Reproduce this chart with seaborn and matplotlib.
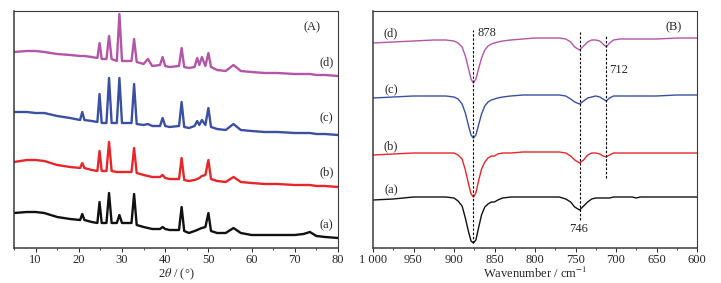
import numpy as np
import pandas as pd
import matplotlib
matplotlib.use("Agg")
import matplotlib.pyplot as plt
import seaborn as sns
from matplotlib.ticker import MultipleLocator

sns.set_style("white")
plt.rcParams.update({
    "font.family": ["Liberation Serif", "DejaVu Serif"],
    "font.size": 9,
    "xtick.direction": "out",
    "xtick.major.size": 2.6,
    "xtick.minor.size": 1.6,
    "xtick.major.width": 0.7,
    "xtick.minor.width": 0.6,
    "xtick.major.pad": 1.5,
    "mathtext.fontset": "stix",
})

# ---- (A) XRD, values are heights (px above the frame bottom edge 248) ----
xrd_2theta = [5, 8, 10, 12, 15, 18, 20.3, 20.8, 21.3, 23, 24.3, 24.8, 25.3, 26.4, 27.0, 27.6,
              28.8, 29.4, 30.0, 32.2, 32.8, 33.4, 35, 36, 37, 38.8, 39.4, 40, 41, 43.2, 43.8,
              44.4, 45.5, 46.8, 47.4, 47.9, 48.5, 49.3, 50.0, 50.6, 52, 54, 55.8, 57.5, 60, 63,
              66, 70, 72, 73.5, 75, 77, 80]
xrd_d = [52, 51, 51, 52, 54, 55, 56, 56, 56, 57, 58, 43, 59, 59, 36, 59,
         61, 14, 61, 61, 39, 62, 64, 59, 66, 65, 57, 66, 67, 66, 48,
         67, 68, 67, 58, 65, 57, 66, 53, 67, 70, 71, 65, 71, 72, 73,
         73, 74, 74, 74, 75, 75, 76]
xrd_c = [112, 112, 113, 113, 116, 118, 120, 112, 120, 121, 122, 94, 123, 123, 78, 123,
         123, 78, 123, 123, 84, 124, 125, 124, 126, 126, 118, 126, 127, 126, 102,
         127, 128, 126, 121, 125, 120, 125, 108, 127, 129, 130, 124, 130, 131, 132,
         132, 133, 133, 133, 134, 134, 135]
xrd_b = [162, 160, 160, 161, 165, 167, 168, 163, 168, 170, 171, 151, 171, 171, 142, 171,
         172, 172, 172, 172, 148, 173, 175, 176, 177, 177, 175, 178, 179, 179, 158,
         180, 181, 180, 179, 178, 176, 175, 160, 179, 181, 182, 177, 182, 183, 184,
         184, 185, 185, 185, 186, 186, 187]
xrd_a = [213, 212, 212, 213, 217, 219, 220, 214, 220, 222, 223, 202, 223, 223, 193, 223,
         223, 215, 223, 223, 194, 225, 227, 228, 229, 229, 227, 229, 230, 230, 207,
         231, 233, 231, 230, 229, 228, 227, 213, 231, 233, 233, 228, 233, 235, 235,
         235, 235, 234, 232, 236, 237, 238]

# ---- (B) FTIR ----
ir_wn = [1000, 975, 950, 925, 910, 900, 895, 890, 886, 882, 879, 876, 873, 870, 866, 862,
         858, 854, 850, 846, 840, 830, 815, 800, 785, 770, 762, 756, 751, 745, 740, 735,
         730, 725, 720, 716, 712, 708, 703, 695, 680, 675, 670, 650, 625, 600]
ir_d = [43, 42, 41, 40, 40, 41, 43, 47, 56, 69, 79, 83, 79, 70, 58, 50,
        46, 44, 43, 42, 41, 40, 39, 38, 38, 38, 39, 42, 47, 50, 46, 42,
        40, 40, 41, 44, 47, 43, 40, 39, 39, 39, 39, 39, 38, 38]
ir_c = [98, 97, 96, 96, 96, 97, 99, 104, 113, 126, 135, 138, 135, 126, 114, 106,
        102, 100, 99, 98, 97, 96, 95, 95, 95, 95, 96, 99, 102, 104, 101, 98,
        97, 96, 97, 99, 101, 98, 96, 96, 96, 96, 96, 96, 95, 95]
ir_b = [155, 154, 153, 153, 153, 153, 155, 159, 170, 184, 194, 197, 193, 182, 169, 162,
        158, 156, 156, 154, 153, 153, 152, 152, 152, 152, 153, 156, 160, 163, 160, 155,
        153, 153, 154, 156, 157, 155, 153, 153, 153, 153, 153, 153, 153, 153]
ir_a = [200, 199, 197, 197, 197, 198, 201, 206, 218, 232, 241, 243, 240, 229, 215, 207,
        204, 202, 202, 200, 198, 197, 197, 197, 197, 197, 199, 202, 207, 210, 206, 202,
        199, 198, 198, 198, 198, 198, 197, 197, 197, 198, 197, 197, 197, 197]

curve_tags = ["(a)", "(b)", "(c)", "(d)"]
curve_colors = ["#111111", "#e8262a", "#3b50a3", "#b455a8"]
right_ticks = [1000, 950, 900, 850, 800, 750, 700, 650, 600]
right_ticklabels = ["1 000", "950", "900", "850", "800", "750", "700", "650", "600"]
left_ticks = [10, 20, 30, 40, 50, 60, 70, 80]
band_pos = [876, 745, 712]
band_labels = ["878", "746", "712"]

FRAME_BOTTOM = 248


def lift(v):
    return FRAME_BOTTOM - np.asarray(v, dtype=float)


xrd = pd.DataFrame({"theta": xrd_2theta, "(a)": lift(xrd_a), "(b)": lift(xrd_b),
                    "(c)": lift(xrd_c), "(d)": lift(xrd_d)})
ir = pd.DataFrame({"wn": ir_wn, "(a)": lift(ir_a), "(b)": lift(ir_b),
                   "(c)": lift(ir_c), "(d)": lift(ir_d)})

W, H = 721, 283
fig = plt.figure(figsize=(W / 100, H / 100), dpi=100)
fig.patch.set_facecolor("white")
axA = fig.add_axes([14 / W, 1 - 248 / H, (338 - 14) / W, (248 - 11) / H])
axB = fig.add_axes([373 / W, 1 - 248 / H, (697 - 373) / W, (248 - 11) / H])

for tag, col in zip(curve_tags, curve_colors):
    sns.lineplot(data=xrd, x="theta", y=tag, ax=axA, color=col, lw=1.7,
                 estimator=None, sort=False)
    sns.lineplot(data=ir, x="wn", y=tag, ax=axB, color=col, lw=1.0,
                 estimator=None, sort=False)

axA.set_xlim(5, 80)
axA.set_ylim(0, 237)
axA.set_xticks(left_ticks)
axA.xaxis.set_minor_locator(MultipleLocator(5))
axA.set_xlabel(r"2$\theta$ / (°)", labelpad=0.5)

axB.set_xlim(1000, 600)
axB.set_ylim(0, 237)
axB.set_xticks(right_ticks)
axB.set_xticklabels(right_ticklabels)
axB.xaxis.set_minor_locator(MultipleLocator(25))
axB.set_xlabel("Wavenumber / cm$^{-1}$", labelpad=0.5)

for ax in (axA, axB):
    ax.set_ylabel("")
    ax.set_yticks([])
    ax.tick_params(axis="x", which="both", bottom=True, labelsize=9)
    for side, sp in ax.spines.items():
        sp.set_visible(True)
        sp.set_color("#3a3a3a")
        sp.set_linewidth(1.1 if side in ("left", "bottom") else 0.8)

# curve tags
tagA_y = [225, 172, 118, 62]
for tag, y in zip(curve_tags, tagA_y):
    axA.text(77.3, FRAME_BOTTOM - y, tag, ha="center", va="center")
axA.text(74.0, FRAME_BOTTOM - 27, "(A)", ha="center", va="center")

tagB_y = [190, 146, 90, 33]
for tag, y in zip(curve_tags, tagB_y):
    axB.text(978, FRAME_BOTTOM - y, tag, ha="center", va="center")
axB.text(629, FRAME_BOTTOM - 27, "(B)", ha="center", va="center")

# band markers
band_spans = [(30, 243), (32, 220), (35, 178)]
for pos, (top, bot) in zip(band_pos, band_spans):
    axB.plot([pos, pos], [FRAME_BOTTOM - bot, FRAME_BOTTOM - top], color="black",
             lw=0.8, ls=(0, (2.2, 1.6)))
axB.text(871, FRAME_BOTTOM - 33, band_labels[0], ha="left", va="center")
axB.text(746, FRAME_BOTTOM - 229, band_labels[1], ha="center", va="center")
axB.text(708, FRAME_BOTTOM - 70, band_labels[2], ha="left", va="center")

fig.savefig("out.png", dpi=100, facecolor="white")
